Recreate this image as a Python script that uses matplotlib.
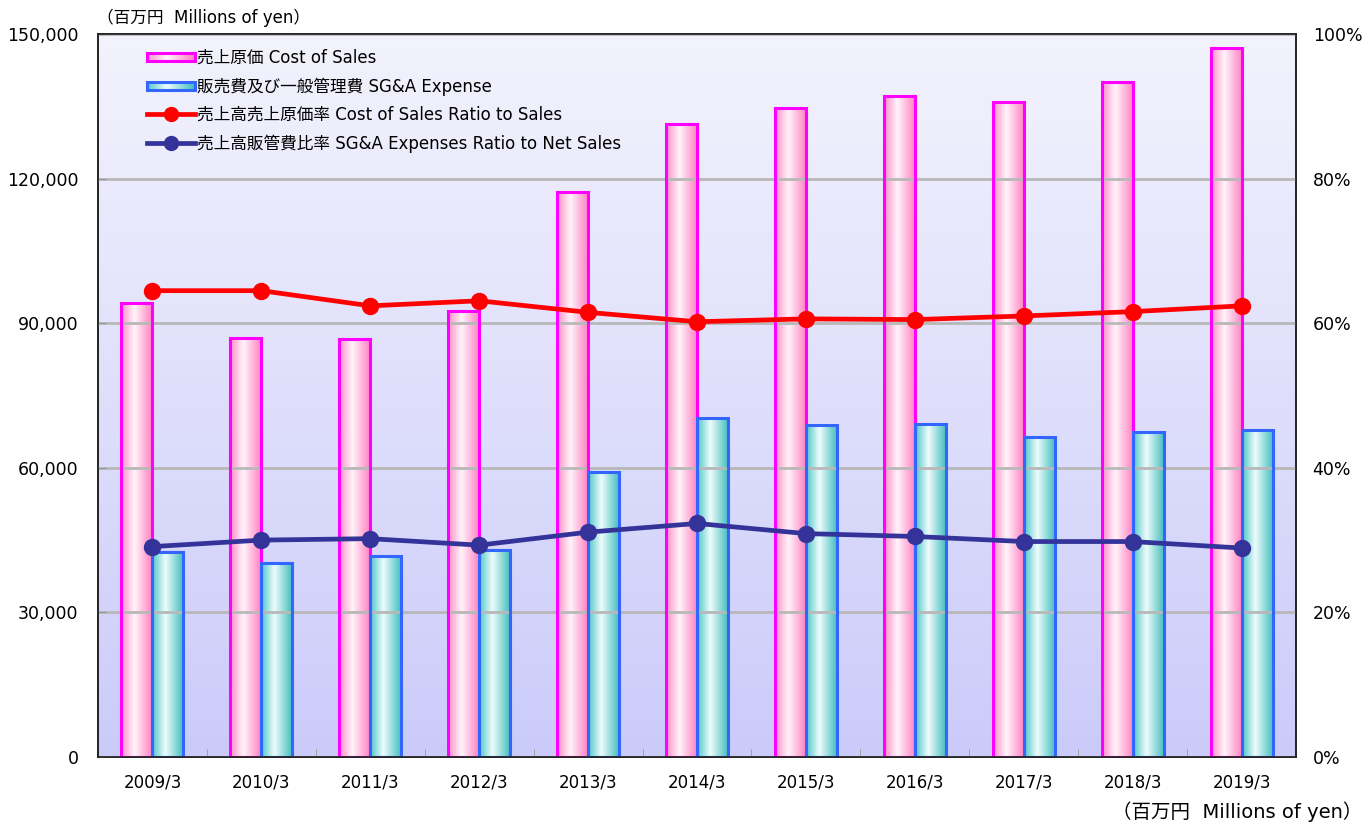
import numpy as np
import matplotlib.pyplot as plt
from matplotlib.colors import LinearSegmentedColormap
from matplotlib.patches import Rectangle
from matplotlib.legend_handler import HandlerBase
from matplotlib.lines import Line2D

plt.rcParams['font.family'] = ['DejaVu Sans', 'Noto Sans CJK JP']

years = ['2009/3', '2010/3', '2011/3', '2012/3', '2013/3', '2014/3',
         '2015/3', '2016/3', '2017/3', '2018/3', '2019/3']
cost_of_sales = [94100, 87000, 86800, 92600, 117300, 131400,
                 134700, 137200, 135900, 140100, 147100]
sga_expense = [42500, 40200, 41800, 42900, 59200, 70400,
               68800, 69000, 66300, 67500, 67800]
cost_ratio = [64.5, 64.5, 62.4, 63.1, 61.5, 60.2, 60.6, 60.5, 61.0, 61.6, 62.4]
sga_ratio = [29.1, 30.0, 30.2, 29.3, 31.1, 32.3, 30.9, 30.5, 29.8, 29.8, 28.9]

labels = ['売上原価 Cost of Sales',
          '販売費及び一般管理費 SG&A Expense',
          '売上高売上原価率 Cost of Sales Ratio to Sales',
          '売上高販管費比率 SG&A Expenses Ratio to Net Sales']

pink_cmap = LinearSegmentedColormap.from_list(
    'pink', [(0, '#ff8fc8'), (0.42, '#fff4fa'), (1, '#ff7fc0')])
teal_cmap = LinearSegmentedColormap.from_list(
    'teal', [(0, '#4fc8c8'), (0.42, '#eefcfc'), (1, '#3fbcbc')])


class GradientBarHandler(HandlerBase):
    def __init__(self, cmap, edge):
        super().__init__()
        self.cmap = cmap
        self.edge = edge

    def create_artists(self, legend, orig_handle, xdescent, ydescent,
                       width, height, fontsize, trans):
        arts = []
        n = 30
        h = height * 0.7
        y0 = -ydescent + (height - h) / 2
        for i in range(n):
            r = Rectangle((-xdescent + width * i / n, y0), width / n + 0.3, h,
                          facecolor=self.cmap((i + 0.5) / n), edgecolor='none',
                          transform=trans)
            arts.append(r)
        arts.append(Rectangle((-xdescent, y0), width, h, facecolor='none',
                              edgecolor=self.edge, lw=2.2, transform=trans))
        return arts


fig = plt.figure(figsize=(13.65, 8.25), dpi=100)
ax = fig.add_axes([98 / 1365, 1 - 757 / 825, 1198 / 1365, 723 / 825])
ax2 = ax.twinx()

# background gradient
grad = np.linspace(0, 1, 256).reshape(-1, 1)
bg_cmap = LinearSegmentedColormap.from_list('bg', ['#cbcbfa', '#f3f3fd'])
ax.imshow(grad, cmap=bg_cmap, origin='lower', aspect='auto',
          extent=[0, 1, 0, 1], transform=ax.transAxes, zorder=0)
ax.patch.set_visible(False)

x = np.arange(len(years))
w = 0.285
row = np.linspace(0, 1, 64).reshape(1, -1)
for i in x:
    ax.imshow(row, cmap=pink_cmap, aspect='auto', zorder=2,
              extent=[i - w, i, 0, cost_of_sales[i]])
    ax.imshow(row, cmap=teal_cmap, aspect='auto', zorder=2,
              extent=[i, i + w, 0, sga_expense[i]])
ax.bar(x - w / 2, cost_of_sales, w, facecolor='none', edgecolor='#ff00ff',
       lw=2.2, zorder=3)
ax.bar(x + w / 2, sga_expense, w, facecolor='none', edgecolor='#3366ff',
       lw=2.2, zorder=3)

ax.set_xlim(-0.5, len(years) - 0.5)
ax.set_ylim(0, 150000)
ax.set_yticks(np.arange(0, 150001, 30000))
ax.set_yticklabels([f'{v:,}' for v in range(0, 150001, 30000)], fontsize=12.5)
ax.grid(axis='y', color='#b8b8b8', lw=2, zorder=1)
ax.set_axisbelow(False)
ax.tick_params(axis='y', direction='in', length=6, color='#999999', pad=14)

ax.set_xticks(x)
ax.set_xticklabels(years, fontsize=12)
ax.set_xticks(np.arange(0.5, len(years) - 1, 1), minor=True)
ax.tick_params(axis='x', which='major', length=0, pad=12)
ax.tick_params(axis='x', which='minor', direction='in', length=6, color='#999999')

ax2.plot(x, cost_ratio, color='#ff0000', lw=3.4, marker='o', ms=11.5, zorder=5)
ax2.plot(x, sga_ratio, color='#333399', lw=3.4, marker='o', ms=11.5, zorder=5)
ax2.set_ylim(0, 100)
ax2.set_yticks(np.arange(0, 101, 20))
ax2.set_yticklabels([f'{v}%' for v in range(0, 101, 20)], fontsize=12.5)
ax2.tick_params(axis='y', length=0, pad=12)

for a in (ax, ax2):
    for s in a.spines.values():
        s.set_color('#222222')
        s.set_linewidth(1.2)

handles = [Rectangle((0, 0), 1, 1), Rectangle((0, 0), 1, 1),
           Line2D([], [], color='#ff0000', lw=3.4, marker='o', ms=10),
           Line2D([], [], color='#333399', lw=3.4, marker='o', ms=10)]
leg = ax2.legend(handles, labels, loc='upper left',
                 bbox_to_anchor=(0.028, 1.0), frameon=False, fontsize=12,
                 handlelength=2.9, handletextpad=0.15, labelspacing=0.62,
                 handler_map={handles[0]: GradientBarHandler(pink_cmap, '#ff00ff'),
                              handles[1]: GradientBarHandler(teal_cmap, '#3366ff')})

fig.text(97 / 1365, 1 - 18 / 825, '（百万円  Millions of yen）', fontsize=12,
         va='center', ha='left')
fig.text(0.998, 1 - 812 / 825, '（百万円  Millions of yen）', fontsize=14,
         va='center', ha='right')

fig.savefig('out.png', dpi=100)
